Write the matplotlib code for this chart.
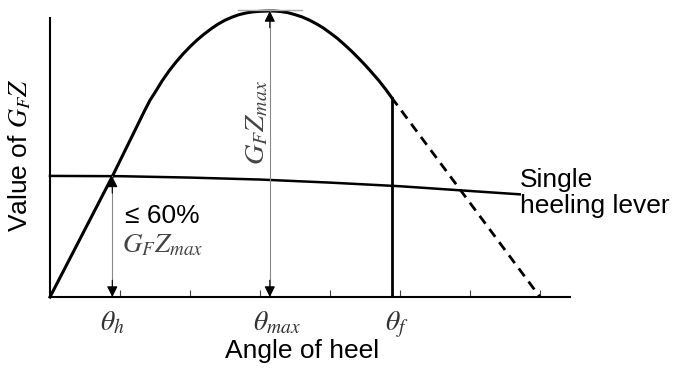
import matplotlib
matplotlib.use("Agg")
import matplotlib.pyplot as plt

plt.rcParams['font.family'] = ['Liberation Sans', 'DejaVu Sans']
plt.rcParams['mathtext.fontset'] = 'stix'

# righting lever curve (angle in degrees, lever in arbitrary units)
gz_angle = [0, 8.9, 13.5, 14.3, 15, 16, 17, 18, 19, 20, 21, 22, 23, 24, 25, 26,
            27, 28, 29, 30, 31.4, 32, 33, 34, 35, 36, 37, 38, 39, 40, 41, 42,
            43, 44, 45, 46, 47, 48, 48.8]
gz_value = [0, 4.32, 6.67, 7.06, 7.33, 7.74, 8.10, 8.42, 8.71, 8.97, 9.21, 9.42,
            9.61, 9.78, 9.92, 10.03, 10.12, 10.18, 10.22, 10.24, 10.25, 10.25,
            10.23, 10.19, 10.12, 10.04, 9.93, 9.80, 9.65, 9.47, 9.28, 9.06,
            8.83, 8.58, 8.32, 8.04, 7.75, 7.43, 7.15]

# extrapolated part past the flooding angle
ext_angle = [48.8, 70.0]
ext_value = [7.15, 0.0]

# single heeling lever
lever_angle = [0, 10, 20, 30, 40, 50, 60, 67.1]
lever_value = [4.34, 4.33, 4.28, 4.21, 4.10, 3.97, 3.80, 3.68]

theta_h = 8.9
theta_max = 31.4
theta_f = 48.8
gz_h = 4.32
gz_max = 10.25
gz_f = 7.15

tick_angles = [10, 20, 30, 40, 50, 60, 70]

fig = plt.figure(figsize=(6.78, 3.70), dpi=100)
ax = fig.add_axes([50 / 678, 73 / 370, 630 / 678, 279 / 370])
ax.set_xlim(0, 90)
ax.set_ylim(0, 10)

for s in ['top', 'right']:
    ax.spines[s].set_visible(False)
ax.spines['left'].set_bounds(0, 10)
ax.spines['bottom'].set_bounds(0, 74.3)
ax.spines['left'].set_linewidth(1.5)
ax.spines['bottom'].set_linewidth(1.5)

ax.set_xticks(tick_angles)
ax.set_xticklabels([])
ax.tick_params(axis='x', direction='in', length=5, width=0.8, color='#444444')
ax.set_yticks([])

# curves
ax.plot(gz_angle, gz_value, color='black', lw=2.2, clip_on=False,
        solid_joinstyle='round')
ax.plot(ext_angle, ext_value, color='black', lw=2.0, ls=(0, (3.5, 2.4)), clip_on=False)
ax.plot(lever_angle, lever_value, color='black', lw=1.8, clip_on=False)
ax.plot([theta_f, theta_f], [0, gz_f], color='black', lw=2.0)

# short line marking the maximum
ax.plot([26.9, 36.0], [gz_max + 0.05, gz_max + 0.05], color='#aaaaaa', lw=1.0, clip_on=False)


def double_arrow(x, y_top):
    ax.plot([x, x], [0, y_top], color='#888888', lw=0.8, clip_on=False)
    head = dict(arrowstyle='-|>', color='black', lw=0.8, mutation_scale=16,
                shrinkA=0, shrinkB=0)
    ax.annotate('', xy=(x, y_top), xytext=(x, y_top - 0.6), arrowprops=head,
                annotation_clip=False)
    ax.annotate('', xy=(x, 0), xytext=(x, 0.6), arrowprops=head,
                annotation_clip=False)


double_arrow(theta_h, gz_h)
double_arrow(theta_max, gz_max)

# annotations
ax.text(10.7, 2.65, '≤ 60%', fontsize=19, va='baseline', ha='left')
ax.text(10.3, 1.61, r'$G_F Z_{max}$', fontsize=19.5, color='#444444',
        va='baseline', ha='left')
ax.text(29.6, 6.24, r'$G_F Z_{max}$', fontsize=20.5, color='#444444',
        rotation=90, va='center', ha='center')
ax.text(67.1, 3.94, 'Single', fontsize=19, va='baseline', ha='left')
ax.text(67.1, 3.01, 'heeling lever', fontsize=19, va='baseline', ha='left')

# angle labels under the axis
ax.text(theta_h, -0.45, r'$\theta_h$', fontsize=20, color='#333333',
        va='top', ha='center')
ax.text(29.0, -0.45, r'$\theta_{max}$', fontsize=20, color='#333333',
        va='top', ha='left')
ax.text(47.9, -0.45, r'$\theta_f$', fontsize=20, color='#333333',
        va='top', ha='left')

ax.set_xlabel('Angle of heel', fontsize=19)
ax.xaxis.set_label_coords(0.40, -0.15)
ax.set_ylabel(r'Value of $G_F Z$', fontsize=19)
ax.yaxis.set_label_coords(-0.027, 0.51)

fig.savefig('out.png', dpi=100)
